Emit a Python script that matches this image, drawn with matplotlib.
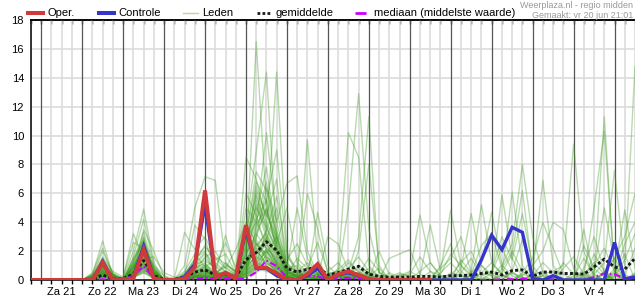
import matplotlib
matplotlib.use("Agg")
import matplotlib.pyplot as plt
import numpy as np
from matplotlib.lines import Line2D

plt.rcParams["font.family"] = ["Liberation Sans", "DejaVu Sans"]

W, H = 635, 300

# tijd in uren vanaf za 21 jun 00:00, stap 6 uur
TIJD = np.arange(-6, 349, 6)
DAGEN = ["Za 21", "Zo 22", "Ma 23", "Di 24", "Wo 25", "Do 26", "Vr 27",
         "Za 28", "Zo 29", "Ma 30", "Di 1", "Wo 2", "Do 3", "Vr 4"]

OPER = [0, 0, 0, 0, 0, 0, 0, 1.2, 0, 0.05, 0.1, 2.1, 0.1, 0, 0, 0.1, 0.9,
        6.2, 0.2, 0.5, 0.1, 3.8, 0.85, 0.85, 0.45, 0, 0, 0.4, 1.1, 0, 0.4,
        0.6, 0.35, 0.05, 0, 0, 0, 0, 0, 0]

CONTROLE = [0, 0, 0, 0, 0, 0, 0, 1.3, 0, 0.05, 0.15, 2.35, 0.1, 0, 0, 0.2,
            1.1, 5.2, 0.2, 0.45, 0.1, 3.5, 0.8, 0.8, 0.3, 0, 0, 0.3, 0.8, 0,
            0.35, 0.5, 0.3, 0.05, 0, 0, 0, 0, 0, 0, 0, 0, 0, 0, 1.4, 3.1, 2.1,
            3.65, 3.3, 0.1, 0, 0.3, 0, 0, 0, 0, 0, 2.6, 0.05, 0.2]

GEMIDDELDE = [0, 0, 0, 0, 0, 0, 0.05, 0.35, 0.05, 0.1, 0.4, 1.35, 0.3, 0.05,
              0.05, 0.2, 0.55, 0.7, 0.35, 0.4, 0.2, 1.4, 1.9, 2.65, 2.05, 0.8,
              0.55, 0.75, 0.9, 0.35, 0.5, 0.75, 0.95, 0.4, 0.25, 0.2, 0.2,
              0.2, 0.25, 0.25, 0.2, 0.3, 0.3, 0.35, 0.45, 0.55, 0.35, 0.65,
              0.7, 0.25, 0.55, 0.55, 0.45, 0.45, 0.4, 0.9, 1.45, 0.9, 0.75,
              1.5]

MEDIAAN = [0, 0, 0, 0, 0, 0, 0, 0.05, 0, 0, 0.3, 0.95, 0.1, 0, 0, 0, 0.1,
           0.15, 0.1, 0.1, 0.05, 0.1, 0.55, 1.35, 0.95, 0.15, 0.05, 0.3, 0.25,
           0.05, 0.1, 0.15, 0.1, 0.05, 0, 0, 0, 0, 0, 0, 0, 0, 0, 0, 0, 0,
           0.05, 0.05, 0.1, 0, 0.05, 0.05, 0, 0, 0, 0.2, 0.45, 0.4, 0.1, 0.25]

# ensembleleden, per dag gegroepeerd (6-uurs waarden)
LEDEN_TXT = [
    "0 0 0 0 0|0 0.4 2.7 0.3|0 1.2 3.0 0.6|0 0 0.3 1.5|2.0 0.6 0.2 0.4|1.8 16.5 5.1 2.2|0.4 0.2 0.8 0.5|0.1 0.3 0.6 0.2|0 0 0.1 0|0 0 0 0.2|0 0 0 0|0 0.3 0 0|0 0 0.2 0|0 0 0 0.4|0 0 0.2",
    "0 0 0 0 0|0 0.2 1.5 0.5|0.1 2.0 4.9 1.2|0 0 0.2 0.8|1.2 0.3 0 0|3.5 8.9 14.4 3.0|0.6 0.3 0.2 0.1|0 0 0.4 1.0|0.5 0 0 0|0 0 0 0|0.2 0 0 0|0 0 0.5 0.2|0 0 0 0|0 0.6 0 0|0 0 0",
    "0 0 0 0 0|0 0.1 0.9 0.2|0 0.5 2.5 0.8|0 0 1.0 5.0|7.15 6.9 1.2 0.5|2.4 6.0 3.5 14.4|2.0 0.5 0.3 0.2|0 0 0 0.2|0.1 0 0 0|0 0 0 0|0 0 0 0.1|0 0 0 0|0 0 0 0|0 0 0 0|0 0 0.3",
    "0 0 0 0 0|0 0 0.6 0.1|0 0.8 1.8 0.3|0 0 0.1 0.5|0.4 0.2 0.5 0.3|8.5 7.0 4.0 2.5|0.8 1.0 0.4 0.2|0 0.5 1.2 0.6|0.2 0 0 0.3|0.6 0.2 0 0|0 0 0 0|0 0 0 0.4|0.2 0 0 0|0 0 0 0|0 0 0",
    "0 0 0 0 0|0 0.3 1.1 0.2|0.2 3.2 1.5 0.2|0 0 0 0.2|0.1 0 0.3 0.1|0.3 3.8 10.2 4.0|6.7 7.2 2.0 0.4|0.2 0 0 0.3|0 0 0 0|0 0 0 0.5|1.2 0.4 0 0|0 0 0 0|0 0 0 0|0 0 0.3 0|0 0 0",
    "0 0 0 0 0|0 0.1 0.5 0|0 0.4 3.5 2.0|0.2 0 0.2 1.0|1.8 0.5 3.1 0.6|1.0 5.5 3.2 1.8|0.3 0.4 9.7 1.5|0.1 0.2 0.3 0.2|0 0 0 0|0 0 0 0|0 0 0 0|0 0.2 0.5 0|0 0 0 0|0 0 0 0|0.3 0 0",
    "0 0 0 0 0|0 0.5 2.2 0.4|0 1.5 2.8 0.5|0 0.1 3.3 2.1|3.0 1.5 0.8 2.1|4.0 2.5 1.5 0.8|0.2 0 0.2 0.4|0.3 0.4 5.0 12.9|3.5 0.5 0.2 0|0 0 0 0|0 0 0 0|0 0 0 0|0 0 0 0|0 0 0 0|0 0 0",
    "0 0 0 0 0|0 0 0.3 0.1|0 0.6 2.2 1.0|0 0 0 0.4|0.6 0.4 0.2 0|2.0 6.5 4.5 3.0|1.2 0.5 0.3 0|0 0.8 10.2 8.5|1.0 0.2 0 0|0 0 0 0|0 0 0.3 0|0 0 0 0|0 0 0 0|0 0 0 0.5|0 0 0",
    "0 0 0 0 0|0 0.2 0.8 0.3|0 1.0 1.2 0.2|0 0 0.4 0.2|0.5 0.2 0.1 0.3|1.2 3.0 5.0 2.0|0.5 0.2 0.6 0.4|0.2 0.4 0.6 3.0|11.3 0.5 0 0|0 0.2 0 0|0 0 0 0|0 0 0 0|0.4 0.6 0 0|0 0 0 0|0 0 0",
    "0 0 0 0 0|0 0.1 0.4 0.2|0 0.2 0.9 0.5|0 0 0 0|0.2 0.5 1.0 0.6|6.0 4.5 2.0 1.2|0.4 1.5 0.8 0.3|0.5 0.3 0.2 2.0|8.0 1.0 0 0|0 0 0 0|0 0 0 0|0 0 0 0|0 0 0 0|0 0 0 0|0 0 0",
    "0 0 0 0 0|0 0 0.2 0|0 0.3 1.0 0.2|0 0 0 0.3|0.2 0 0 0|0.5 1.2 2.0 0.8|0.2 0 0 0.2|0 0 0.3 0.5|0.2 0 0 0.2|0.5 4.5 1.2 0.3|0.3 0 0 0.5|1.2 0.4 0 0|0 0 0 0|0 0 0 0.5|1.5 0.4 0",
    "0 0 0 0 0|0 0.1 0.6 0.1|0 0.5 1.6 0.4|0 0 0.2 0.6|0.8 0.3 0.1 0|0.8 2.5 1.8 0.6|0.1 0 0.3 0.6|0.2 0.1 0 0|0 0 0.5 0.2|0 0.3 3.8 0.6|4.85 1.0 0.2 0|0 0 0 0|0 0 0 0|0 0.2 0 0|0 0 0",
    "0 0 0 0 0|0 0 0.4 0.1|0 0.2 0.6 0.1|0 0 0 0.2|0.3 0.1 0 0.2|1.5 2.2 1.0 0.4|0 0 0.2 0.4|0.6 1.2 0.4 0|0 0 0 0|0 0 0.2 0.8|1.5 3.0 0.5 1.2|4.7 1.0 0.3 0|0 0 0 0|0 0 0 0|0.6 0.2 0",
    "0 0 0 0 0|0 0.2 1.0 0.3|0 1.1 2.4 0.6|0 0 0 0.3|0.2 0 0.4 0.2|0.4 1.0 3.5 2.0|0.5 0.2 0 0|0 0 0 0.3|0.5 0.3 0 0|0 0 0 0|0 0.8 4.6 1.0|0.2 5.9 1.5 0.2|0 0 0 0|0 0 0 0|0 0 0",
    "0 0 0 0 0|0 0 0.2 0|0 0.3 1.4 0.8|0 0 0.1 0.5|1.0 0.4 0.2 0|0.2 0.8 2.2 1.5|0.2 0 0 0|0 0 0.2 0.4|0 0 0 0|0 0 0 0|0 0 0.6 5.2|1.2 0.4 6.1 1.0|0 0.3 0 0|0 0 0 0|0 0 0.4",
    "0 0 0 0 0|0 0.3 0.7 0.2|0 0.9 2.0 0.4|0 0 0.3 0.9|1.5 0.8 2.6 0.9|2.8 4.0 2.6 1.0|0.3 0.1 0 0.2|0 0 0.3 0.2|0 0 0 0|0 0 0 0|0 0 0 0.5|0.3 1.0 2.5 8.0|3.0 0.5 0 0|0 0 0 0|0 0 0",
    "0 0 0 0 0|0 0.1 0.5 0.4|0 0.4 1.1 0.3|0 0 0 0.1|0.3 0.2 0.6 0.3|1.1 3.3 4.8 2.4|0.6 0.3 0.1 0|0 0 0 0|0.3 0.8 0 0|0 0 0 0|0 0 0 0|0 0.5 1.8 6.2|0.5 6.9 1.0 0|0 0 0 0|0 0 0",
    "0 0 0 0 0|0 0 0.3 0.2|0 0.2 0.8 0.6|0 0 0 0|0.1 0 0.2 0.1|0.6 1.4 2.8 5.0|1.0 0.2 0 0|0 0 0 0|0 0 0.2 0.5|0.2 0 0 0|0 0 0 0|0 0 0 0.3|1.0 2.0 4.0 3.5|0.8 0 0 0|0.4 0 0",
    "0 0 0 0 0|0 0.2 1.3 0.4|0 1.3 3.3 0.9|0 0.1 0.6 1.8|0.9 0.2 0.1 0|1.3 2.0 1.2 0.7|0.2 0.4 0.3 0|0 0 0 0|0 0 0 0|0 0 0 0|0 0 0 0|0 0 0 0|0 0.4 0.6 1.0|9.4 2.0 0.2 0|0 0 0",
    "0 0 0 0 0|0 0.1 0.9 0.3|0 0.7 1.9 0.7|0 0 0.2 0.3|0.4 0.6 0.3 0.1|0.9 1.6 3.0 1.4|0.4 0.1 0.2 0.1|0 0.2 0.4 0.1|0 0 0 0|0 0 0 0|0 0 0 0|0 0 0 0|0 0 0 0|0.3 3.5 0.2 11.3|0.4 0.2 0",
    "0 0 0 0 0|0 0 0.5 0.2|0 0.5 1.3 0.2|0 0 0.1 0.4|0.2 0.1 0 0|0.5 2.8 1.6 0.9|0.3 0 0 0|0 0 0 0.2|0.4 0 0 0|0 0 0 0|0 0 0 0|0 0 0 0|0 0 0 0|0.5 0.2 5.0 10.3|0.6 4.85 0.8",
    "0 0 0 0 0|0 0.2 0.8 0.2|0 0.6 1.7 0.5|0 0 0 0.2|0.6 0.3 0.4 0.2|0.7 1.8 2.4 1.2|0.2 0 0.1 0|0 0.1 0 0|0 0 0 0|0 0 0 0|0 0 0 0|0 0 0 0|0 0 0 0|0 0 0.4 1.2|7.6 1.0 14.8",
    "0 0 0 0 0|0 0.1 0.4 0|0 0.3 0.7 0.2|0 0 0 0.3|0.5 0.2 0 0|0.3 0.9 1.4 0.6|0.1 0 0 0|0 0 0 0|0 0 0 0|0 0 0 0|0 0 0 0|0 0 0 0|0 0 0 0|0 0 0 0.6|1.5 3.0 6.0",
    "0 0 0 0 0|0 0.4 1.6 0.6|0.2 2.6 2.2 0.4|0 0 0.5 1.3|2.4 1.2 0.6 0.3|3.0 7.5 6.2 3.4|1.4 2.5 1.0 0.3|0.2 0 0 0.4|1.5 0.6 0 0|0 0 0.6 0.3|0 0 0 0|0 0 0 0|0 0 0 0|0 0 0 0|0 0 0",
    "0 0 0 0 0|0 0.1 0.7 0.2|0 0.7 1.5 1.6|0.5 0.2 0 0.6|1.6 2.0 0.8 0.4|5.0 4.0 6.8 2.5|5.0 1.2 0.5 0.3|0 0.2 0.5 0.8|0.3 0 0 0|0 0 0 0|0.5 0.3 0 0|0 0 0 0|0 0 0 0|0 0 0 0|0 0 0",
    "0 0 0 0 0|0 0.2 0.6 0.2|0 0.8 2.9 0.6|0 0 0.2 0.7|0.9 1.4 1.8 0.5|2.2 5.8 3.8 2.0|0.8 5.0 1.5 0.4|0.2 0.6 0.8 0.3|0 0 0 0.4|0.3 0 0 0|0 0 0 0|0 0 0 0|0 0 0 0|0 0 0 0|0 0 0",
    "0 0 0 0 0|0 0.3 1.2 0.3|0 1.4 2.6 0.3|0 0 0.2 0.4|0.7 0.5 0.9 0.4|1.6 4.6 7.8 2.8|1.0 0.6 6.0 3.5|0.4 0.2 0.1 0|0 0 0 0|0 0 0 0|0 0.3 0 0|0 0 0 0|0 0 0 0|0 0 0 0|0 0.2 0",
    "0 0 0 0 0|0 0.1 0.3 0.1|0 0.4 1.0 0.4|0 0 0 0.3|0.4 0.6 0.2 0|0.8 3.6 5.5 9.0|1.8 0.4 0.2 4.7|1.0 0.3 0 0|0 0 0 0|0 0 0 0|0 0 0 0|0 0 0 0|0 0 0 0|0 0 0 0|0 0 0",
    "0 0 0 0 0|0 0.2 1.0 0.4|0 1.0 1.8 0.2|0 0 0.3 0.8|1.0 0.4 0.2 0.1|2.6 6.2 4.4 7.0|0.6 0.2 0.4 0.2|3.0 2.5 0.6 0.2|0 0 1.5 1.8|2.1 0.4 0 0|0 0 0 0|0 0 0 0|0 0 0 0|0 0 0 0|0 0 0",
    "0 0 0 0 0|0 0 0.5 0.3|0 0.6 1.2 0.2|0 0 0 0|0.2 0.2 0.1 0|1.0 2.4 3.2 1.6|0.4 0.6 0.2 0|0 0 0.2 0|0 2.0 0.4 0|0 0 0 1.0|2.5 0.6 0 0|0 0.4 0 0|0 0 0 0|0 0 0 0|0 0 0",
    "0 0 0 0 0|0 0 0.2 0|0 0.2 0.5 0.1|0 0 0 0|0.1 0 0 0|0.4 0.8 0.6 0.3|0 0 0 0|0 0 0 0|0 0 0 0|0 0 0 0.4|1.8 1.0 0.4 2.4|3.2 0.8 0 0|0 0 0 0|0 0 1.0 2.2|0.6 0 0",
    "0 0 0 0 0|0 0.1 0.6 0.1|0 0.5 1.1 0.3|0 0 0 0.2|0.3 0.1 0.2 0|0.6 1.2 0.9 0.5|0.2 0 0 0|0 0 0 0|0 0 0 0|0 0 0 0|0 0.5 1.5 0.3|0.6 3.0 1.4 4.6|1.0 0 0 0|0 0 0 0|0.5 1.8 0",
    "0 0 0 0 0|0 0.2 0.4 0.2|0 0.3 0.9 0.4|0 0 0.1 0.3|0.3 0.4 0.1 0|0.3 0.7 1.8 3.0|0.6 0.2 0 0|0 0 0 0|0 0 0 0|0 0 0 0|0 0 0 0|0 0 0 0.5|1.5 4.0 2.2 0.4|0 0.8 3.0 0.6|0 0.3 0",
    "0 0 0 0 0|0 0.1 0.3 0.1|0 0.3 0.6 0.5|0 0 0 0|0 0 0.2 0.1|0.2 0.5 1.1 0.8|0.3 0 0 0|0 0 0 0.2|0.4 0.1 0 0|0 0 0 0|0 0 0 0|0 0 0 0|0 0 0 0|0.2 1.5 0.4 0|0.2 2.5 4.0",
    "0 0 0 0 0|0 0.2 0.9 0.3|0 0.9 2.1 0.8|0 0 0.4 1.1|1.3 0.9 0.4 0.2|1.8 3.2 2.2 1.3|0.6 0.3 0.2 0.1|0 0.3 0.2 0|0 0 0 0|0 0 0 0|0 0 0 0|0 0 0 0|0 0 0 0|0 0 0 0|0 0 0",
    "0 0 0 0 0|0 0.3 2.0 0.4|0 1.6 4.2 1.0|0.3 0 0.3 3.8|2.8 0.7 0.2 0.3|0.9 2.6 1.4 0.5|0.2 0.3 0.5 0.2|0 0 0 0|0 0 0 0|0 0 0 0|0 0 0 0|0 0 0 0|0 0 0 0|0 0 0 0|0 0 0",
    "0 0 0 0 0|0 0.1 0.5 0.1|0 0.4 1.4 0.3|0 0 0.1 0.4|0.6 0.3 1.2 0.5|0.4 1.0 1.6 1.1|0.1 0 0 0.2|0.4 0.6 0.2 0|0 0 0 0|0 0 0 0|0 1.4 0.5 0|0 0 0 0|0.4 0 0 1.2|0.4 0 0 0|0 0 0",
    "0 0 0 0 0|0 0 0.2 0.1|0 0.2 0.5 0.2|0 0 0 0|0.1 0.1 0 0|0.2 0.6 0.9 0.4|0 0 0 0|0 0 0 0|0 0 0 0|0 0 0 0|0 0 0 0|0 0 0 0|0 0 0 0|0 0 0.6 5.0|1.2 0 0.4",
    "0 0 0 0 0|0 0.2 0.7 0.2|0 0.8 1.7 0.4|0 0 0.2 0.5|0.7 0.2 0 0|1.4 2.0 2.9 1.7|0.5 0.2 0.2 0.1|0 0 0.2 0.2|0 0 0 0|0 0 0 0|0 0 0 0|0 0 0 0|0 0 0 0|0 0 0 0|0 0 0",
    "0 0 0 0 0|0 0.1 0.4 0.2|0 0.5 0.8 0.2|0 0 0 0.2|0.3 0.2 0.3 0.1|0.6 1.6 1.2 0.6|0.2 0 0 0|0 0 0 0|0 0 0 0.3|0 0 0 0|0 0 0.4 0.2|0 0 0 0|0 0.3 0.2 0|0 0 0 0|0 0 0.5",
    "0 0 0 0 0|0 0.2 0.6 0.2|0 0.6 1.8 0.5|0 0 0.3 0.9|1.1 0.6 0.4 0.3|2.0 4.2 5.6 3.2|0.9 0.4 0.2 0.1|0 0.2 0.5 0.3|0 0 0 0|0 0.6 1.2 0.3|0 0 0 0|0 0.8 2.0 0.6|0 0 0 0|0 0 0 0|0 0 0",
    "0 0 0 0 0|0 0.1 0.8 0.3|0 0.9 2.3 0.7|0 0 0.2 0.6|0.9 0.3 0.6 0.4|1.7 3.9 4.9 2.1|0.4 0.6 1.2 0.5|0.2 0.3 0.2 0.1|0 0 0 0|0 0 0 0|0.3 1.2 2.0 0.4|0 0 0 0|0 0 0 0.8|1.6 0.4 0 0|0 0 0",
    "0 0 0 0 0|0 0.3 1.4 0.3|0 1.1 2.0 0.3|0 0 0 0.5|0.8 0.4 0.2 0.1|1.1 2.9 6.4 4.1|0.7 0.3 0.1 0|0 0 0 0.4|0.8 0.2 0 0|0 0 0 0|0 0 0 0|0 0 0.6 2.8|0.4 0 0 0|0 0 0 0|0.8 0.3 2.2",
    "0 0 0 0 0|0 0.1 0.5 0.2|0 0.4 1.2 0.6|0 0 0.1 0.3|0.6 0.5 0.3 0|0.9 2.2 3.4 5.8|1.6 0.8 0.4 0.2|0 0 0 0|0 0 0 0|0 0 0 0|0 0 0 0|0 0 0 0|0.3 1.2 0.5 0|0 2.4 0.8 0.2|0 0 0",
    "0 0 0 0 0|0 0.2 0.9 0.2|0 0.8 2.4 0.4|0 0 0.2 0.6|0.7 0.2 0.1 0.2|2.3 5.2 2.9 1.2|0.3 0.2 0.8 2.6|0.6 0.2 0 0|0 0 0 0|0 0 0 0|0 0 0 0|0 0 0 0|0 0 0 0|0 0 0 0|0 0 0",
    "0 0 0 0 0|0 0.1 0.4 0.1|0 0.3 0.8 0.2|0 0 0 0.1|0.2 0.2 0.5 0.2|0.7 1.9 2.6 1.1|0.2 0 0 0.1|0.3 0.7 1.4 0.5|0.2 0 0 0|0 0 0 0|0 0 0 0|0 0 0 0|0 0 0 0|0 0 1.8 0.6|0.2 1.4 3.2",
    "0 0 0 0 0|0 0.2 0.7 0.3|0 0.6 1.6 0.5|0 0 0.2 1.2|1.9 1.0 0.6 0.2|3.2 6.8 5.4 2.6|0.8 0.3 0.2 0|0 0 0 0|0 0 0 0|0 0 0 0|0 0 0 0|0 0 0 0|0 0 0 0|0 0 0 0|0 0 0",
    "0 0 0 0 0|0 0 0.3 0.1|0 0.2 0.7 0.3|0 0 0 0.2|0.3 0.1 0 0|0.4 1.1 2.0 1.0|0.3 0.1 0 0|0 0 0 0|0 0 0 0|0.4 1.6 0.6 0|0 0 0 0|0.5 2.2 0.6 0|0 0 0 0|0 0 0 0|0 0 0",
    "0 0 0 0 0|0 0.3 1.1 0.2|0 1.2 2.7 0.6|0 0 0.4 1.4|2.3 1.6 1.1 0.6|2.7 5.0 3.6 2.2|1.1 0.5 0.2 0|0 0.2 0.8 1.6|0.6 0 0 0|0 0 0 0|0 0 0 0|0 0 0 0|0 0 0 0|0 0 0 0|0 0 0",
    "0 0 0 0 0|0 0.1 0.6 0.2|0 0.5 1.0 0.3|0 0 0 0.2|0.4 0.2 0.1 0|0.5 1.4 2.1 0.9|0.2 0 0 0|0 0 0 0|0 0 0 0|0 0 0 0|0 0 0.3 1.0|0.4 0 0 0|0 0 0 0|0 0.3 1.2 0.4|0 0 0",
]
LEDEN = [np.array(s.replace("|", " ").split(), dtype=float) for s in LEDEN_TXT]
for lid in LEDEN:
    assert len(lid) == len(TIJD), len(lid)

KLEUR = {
    "oper": "#d03a3a",
    "controle": "#3535cc",
    "leden": "#3d9b1f",
    "leden_legend": "#b5d8a8",
    "gem": "#1a1a1a",
    "med": "#cc00ff",
    "grid": "#dcdcdc",
    "dag": "#555555",
    "sub": "#999999",
}

fig = plt.figure(figsize=(W / 100, H / 100), dpi=100, facecolor="white")
ax = fig.add_axes([31 / W, 20 / H, 1 - 31 / W, 260 / H])

for t in TIJD:
    if t % 24 == 0:
        ax.axvline(t, color=KLEUR["dag"], lw=0.9, zorder=0.5)
    else:
        ax.axvline(t, color=KLEUR["grid"], lw=1.2, zorder=0.4)
for y in range(2, 18, 2):
    ax.axhline(y, color=KLEUR["grid"], lw=1.2, zorder=0.4)

for lid in LEDEN:
    ax.plot(TIJD, lid, color=KLEUR["leden"], lw=1.0, alpha=0.36, zorder=1)

ax.plot(TIJD, GEMIDDELDE, color=KLEUR["gem"], lw=2.1,
        linestyle=(0, (1, 0.8)), zorder=3)
ax.plot(TIJD, MEDIAAN, color=KLEUR["med"], lw=1.6,
        linestyle=(0, (3, 1.2, 0.7, 1.2)), zorder=3)
ax.plot(TIJD, CONTROLE, color=KLEUR["controle"], lw=2.4, zorder=4,
        solid_joinstyle="miter")
ax.plot(TIJD[:len(OPER)], OPER, color=KLEUR["oper"], lw=2.9, zorder=5,
        solid_joinstyle="miter")

ax.set_xlim(-6, 348)
ax.set_ylim(0, 18)
ax.set_yticks(range(0, 19, 2))
ax.tick_params(axis="y", length=0, pad=5, labelsize=8)

ax.xaxis.remove_overlapping_locs = False
ax.set_xticks(TIJD)
ax.set_xticklabels([])
ax.set_xticks([12 + 24 * k for k in range(len(DAGEN))], minor=True)
ax.set_xticklabels(DAGEN, minor=True)
ax.tick_params(axis="x", which="major", length=3, width=1, direction="out")
ax.tick_params(axis="x", which="minor", length=0, pad=5, labelsize=8)

top = ax.secondary_xaxis("top")
top.set_xticks(TIJD)
top.set_xticklabels([])
top.tick_params(length=3, width=1, direction="in")

for side in ("left", "bottom", "top"):
    ax.spines[side].set_linewidth(1.1)
ax.spines["right"].set_visible(False)
top.spines["top"].set_linewidth(1.1)

# legenda bovenaan
legenda = [
    (28, "Oper.", dict(color=KLEUR["oper"], lw=2.9)),
    (99, "Controle", dict(color=KLEUR["controle"], lw=2.9)),
    (183, "Leden", dict(color=KLEUR["leden_legend"], lw=1.0)),
    (257, "gemiddelde", dict(color=KLEUR["gem"], lw=2.0, linestyle=(0, (1, 0.8)))),
    (355, "mediaan (middelste waarde)",
     dict(color=KLEUR["med"], lw=2.0, linestyle=(0, (4, 1.5, 0.8, 1.5)))),
]
ly = 1 - 13 / H
for x0, label, stijl in legenda:
    fig.add_artist(Line2D([x0 / W, (x0 + 15) / W], [ly, ly],
                          transform=fig.transFigure, **stijl))
    fig.text((x0 + 19) / W, ly, label, fontsize=8, va="center", ha="left")

fig.text(633 / W, 1 - 5 / H, "Weerplaza.nl - regio midden", fontsize=6.5,
         color=KLEUR["sub"], ha="right", va="center")
fig.text(633 / W, 1 - 15 / H, "Gemaakt: vr 20 jun 21:01", fontsize=6.5,
         color=KLEUR["sub"], ha="right", va="center")

fig.savefig("out.png", dpi=100, facecolor="white")
